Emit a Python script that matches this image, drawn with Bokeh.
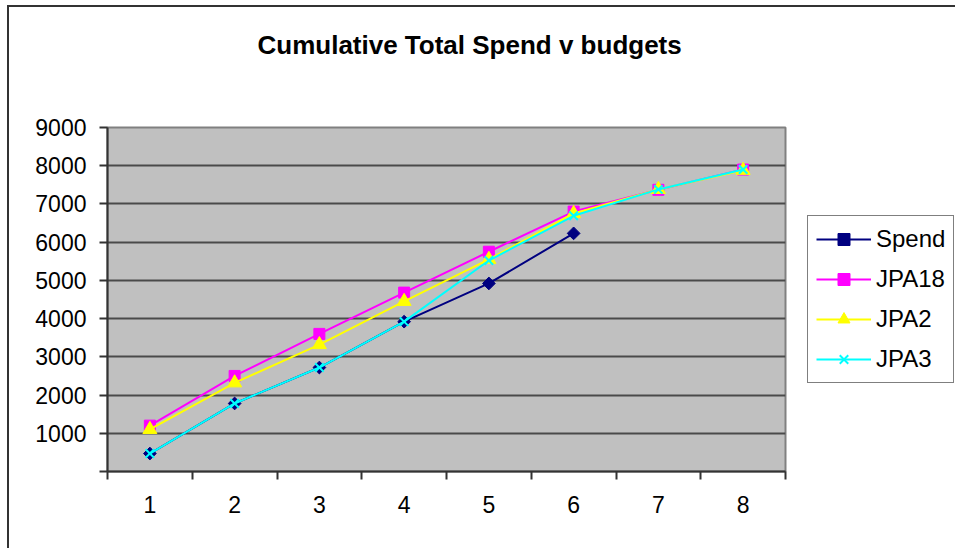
import math
from bokeh.plotting import figure
from bokeh.models import Range1d, FixedTicker, Legend, LegendItem, Title
from bokeh.embed import file_html
from bokeh.resources import INLINE

# ---- data ----
x_labels = ["1", "2", "3", "4", "5", "6", "7", "8"]
x_pos = [1, 2, 3, 4, 5, 6, 7, 8]
spend = [470, 1780, 2720, 3920, 4920, 6230]
jpa18 = [1200, 2500, 3600, 4680, 5750, 6800, 7370, 7900]
jpa2 = [1100, 2320, 3320, 4450, 5550, 6750, 7380, 7880]
jpa3 = [470, 1780, 2720, 3920, 5520, 6690, 7380, 7900]
y_ticks = [0, 1000, 2000, 3000, 4000, 5000, 6000, 7000, 8000, 9000]

FONT = "Liberation Sans"

p = figure(frame_width=678, frame_height=344, output_backend="svg", toolbar_location=None,
           x_range=Range1d(0.5, 8.5), y_range=Range1d(0, 9000),
           min_border_left=98, min_border_right=170, min_border_top=120, min_border_bottom=77)

p.styles = {"border-top": "2px solid #333333", "border-left": "2px solid #333333",
            "margin-top": "5px", "margin-left": "7px"}

# blank spacer between the plot area and the title
p.add_layout(Title(text=" ", text_font_size="10px", standoff=50), "above")

# title
p.title.text = "Cumulative Total Spend v budgets"
p.title.text_font = FONT
p.title.text_font_size = "26px"
p.title.text_font_style = "bold"
p.title.text_color = "black"
p.title.align = "left"
p.title.offset = 150
p.title.standoff = 10

p.background_fill_color = "#C0C0C0"
p.border_fill_color = "white"
p.outline_line_color = "#808080"
p.outline_line_width = 2

# y axis
p.yaxis.ticker = FixedTicker(ticks=y_ticks)
p.yaxis.major_label_overrides = {0: ""}
p.yaxis.axis_line_color = "#333333"
p.yaxis.axis_line_width = 2
p.yaxis.major_tick_line_color = "#333333"
p.yaxis.major_tick_line_width = 2
p.yaxis.major_tick_out = 8
p.yaxis.major_tick_in = 0
p.yaxis.minor_tick_line_color = None
p.yaxis.major_label_text_font = FONT
p.yaxis.major_label_text_font_size = "23px"
p.yaxis.major_label_text_color = "black"
p.yaxis.major_label_standoff = 13

# x axis: labels at category centres, ticks between categories
p.xaxis.ticker = FixedTicker(ticks=x_pos, minor_ticks=[v - 0.5 for v in x_pos] + [x_pos[-1] + 0.5])
p.xaxis.major_label_overrides = {v: s for v, s in zip(x_pos, x_labels)}
p.xaxis.axis_line_color = "#333333"
p.xaxis.axis_line_width = 2
p.xaxis.major_tick_line_color = None
p.xaxis.major_tick_out = 8
p.xaxis.major_tick_in = 0
p.xaxis.minor_tick_line_color = "#333333"
p.xaxis.minor_tick_line_width = 2
p.xaxis.minor_tick_out = 8
p.xaxis.minor_tick_in = 0
p.xaxis.major_label_text_font = FONT
p.xaxis.major_label_text_font_size = "23px"
p.xaxis.major_label_text_color = "black"
p.xaxis.major_label_standoff = 16

p.xgrid.grid_line_color = None
p.ygrid.ticker = FixedTicker(ticks=y_ticks)
p.ygrid.grid_line_color = "#4a4a4a"
p.ygrid.grid_line_width = 2

# series
l1 = p.line(x_pos[:len(spend)], spend, line_color="#000080", line_width=2)
m1 = p.scatter(x_pos[:len(spend)], spend, marker="square", size=9, angle=math.pi / 4,
               fill_color="#000080", line_color="#000080")
l2 = p.line(x_pos, jpa18, line_color="#FF00FF", line_width=2)
m2 = p.scatter(x_pos, jpa18, marker="square", size=11,
               fill_color="#FF00FF", line_color="#FF00FF")
l3 = p.line(x_pos, jpa2, line_color="#FFFF00", line_width=2)
m3 = p.scatter(x_pos, jpa2, marker="triangle", size=14,
               fill_color="#FFFF00", line_color="#FFFF00")
l4 = p.line(x_pos, jpa3, line_color="#00FFFF", line_width=2)
m4 = p.scatter(x_pos, jpa3, marker="x", size=12, line_color="#00FFFF", line_width=2)

legend = Legend(items=[
    LegendItem(label="Spend", renderers=[l1, m1]),
    LegendItem(label="JPA18", renderers=[l2, m2]),
    LegendItem(label="JPA2", renderers=[l3, m3]),
    LegendItem(label="JPA3", renderers=[l4, m4]),
], location="center_left", margin=22, padding=8, spacing=10,
    glyph_width=55, glyph_height=30, label_height=30, label_standoff=5,
    label_text_font=FONT, label_text_font_size="24px", label_text_color="black",
    border_line_color="black", border_line_width=1, background_fill_color="white",
    background_fill_alpha=1.0)
p.add_layout(legend, "right")

open("out.html", "w").write(file_html(p, INLINE))
